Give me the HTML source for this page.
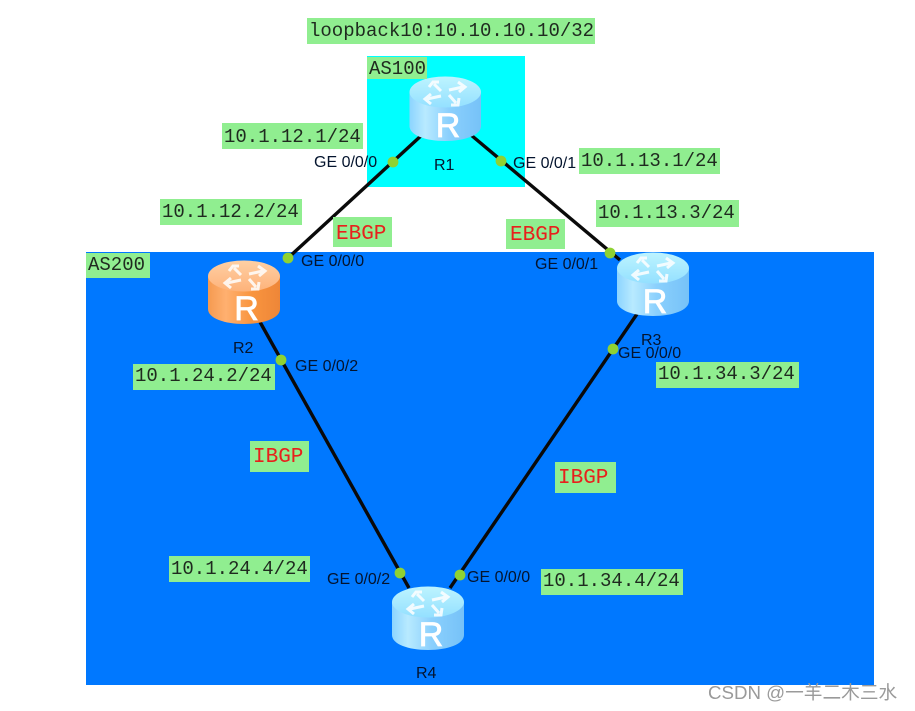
<!DOCTYPE html>
<html>
<head>
<meta charset="utf-8">
<style>
html,body{margin:0;padding:0;background:#fff;width:915px;height:711px;overflow:hidden}
svg{display:block;filter:blur(.35px)}
.m{font-family:"Liberation Mono",monospace;font-size:19px;fill:#1f2a1f}
.b{font-family:"Liberation Mono",monospace;font-size:21px;fill:#e8201c}
.s{font-family:"Liberation Sans",sans-serif;font-size:16px;fill:#04142e}
.rt{font-family:"Liberation Sans",sans-serif;font-size:34px;fill:#fff;stroke:#fff;stroke-width:.8;text-anchor:middle}
.g{fill:#90ee90}
.d{fill:#8fd232}
.l{stroke:#0a0a0a;stroke-width:3.4;fill:none}
</style>
</head>
<body>
<svg width="915" height="711" viewBox="0 0 915 711" xmlns="http://www.w3.org/2000/svg">
<defs>
<linearGradient id="bs" x1="0" x2="1" y1="0" y2="0">
<stop offset="0" stop-color="#8cd4ff"/><stop offset=".22" stop-color="#b8eaff"/><stop offset=".55" stop-color="#8bd0fd"/><stop offset="1" stop-color="#76c2f8"/>
</linearGradient>
<linearGradient id="bt" x1="0" x2="0" y1="0" y2="1">
<stop offset="0" stop-color="#bdf4ff"/><stop offset="1" stop-color="#94e0ff"/>
</linearGradient>
<linearGradient id="os" x1="0" x2="1" y1="0" y2="0">
<stop offset="0" stop-color="#f59a50"/><stop offset=".25" stop-color="#ffb070"/><stop offset=".6" stop-color="#f9953f"/><stop offset="1" stop-color="#ee8638"/>
</linearGradient>
<linearGradient id="ot" x1="0" x2="0" y1="0" y2="1">
<stop offset="0" stop-color="#ffd0a4"/><stop offset="1" stop-color="#fdb27a"/>
</linearGradient>
<g id="ar" fill="none" stroke="#fff" stroke-width="3" opacity=".85">
<path d="M-4 -2 L-11 -9 M-16 -6 L-12 -11 L-6 -11"/>
<path d="M4 -3 L18 -6 M13 -11 L20 -6 L14 -1"/>
<path d="M-4 3 L-18 6 M-14 1 L-20 6 L-14 11"/>
<path d="M4 2 L11 10 M14 5 L13 12 L6 12"/>
</g>
</defs>

<rect x="86" y="252" width="788" height="433" fill="#0078ff"/>
<rect x="367" y="56" width="158" height="131" fill="#00ffff"/>

<line class="l" x1="423" y1="134" x2="288" y2="258"/>
<line class="l" x1="471" y1="135" x2="620" y2="260"/>
<line class="l" x1="260" y1="322" x2="409" y2="588"/>
<line class="l" x1="637" y1="314" x2="450" y2="588"/>

<!-- R1 -->
<path d="M409.500 92V126C409.500 135 425 141 445 141S481 135 481 126V92Z" fill="url(#bs)"/>
<ellipse cx="445.250" cy="92" rx="35.750" ry="15.500" fill="url(#bt)"/>
<use href="#ar" x="445" y="93"/>
<text class="rt" x="448" y="137">R</text>
<!-- R2 -->
<path d="M208 276V309C208 318 224 324 244 324S280 318 280 309V276Z" fill="url(#os)"/>
<ellipse cx="244" cy="276" rx="36" ry="15.500" fill="url(#ot)"/>
<use href="#ar" x="245" y="277"/>
<text class="rt" x="246.500" y="320">R</text>
<!-- R3 -->
<path d="M617 268V301C617 310 633 316 653 316S689 310 689 301V268Z" fill="url(#bs)"/>
<ellipse cx="653" cy="268" rx="36" ry="15.500" fill="url(#bt)"/>
<use href="#ar" x="653" y="269"/>
<text class="rt" x="655" y="313">R</text>
<!-- R4 -->
<path d="M392 602V635C392 644 408 650 428 650S464 644 464 635V602Z" fill="url(#bs)"/>
<ellipse cx="428" cy="602" rx="36" ry="15.500" fill="url(#bt)"/>
<use href="#ar" x="428" y="603"/>
<text class="rt" x="431" y="646">R</text>

<circle class="d" cx="393" cy="162" r="5.400"/>
<circle class="d" cx="501" cy="161" r="5.400"/>
<circle class="d" cx="288" cy="258" r="5.400"/>
<circle class="d" cx="610" cy="253" r="5.400"/>
<circle class="d" cx="281" cy="360" r="5.400"/>
<circle class="d" cx="613" cy="349" r="5.400"/>
<circle class="d" cx="400" cy="573" r="5.400"/>
<circle class="d" cx="460" cy="575" r="5.400"/>

<rect class="g" x="307" y="18" width="288" height="26"/>
<text class="m" x="309" y="36">loopback10:10.10.10.10/32</text>
<rect class="g" x="367" y="57" width="60" height="22"/>
<text class="m" x="369" y="74">AS100</text>
<rect class="g" x="86" y="253" width="64" height="25"/>
<text class="m" x="88" y="270">AS200</text>

<rect class="g" x="222" y="123" width="141" height="26"/>
<text class="m" x="224" y="142">10.1.12.1/24</text>
<rect class="g" x="579" y="148" width="141" height="26"/>
<text class="m" x="581" y="166">10.1.13.1/24</text>
<rect class="g" x="160" y="199" width="142" height="26"/>
<text class="m" x="162" y="217">10.1.12.2/24</text>
<rect class="g" x="596" y="200" width="143" height="27"/>
<text class="m" x="598" y="218">10.1.13.3/24</text>
<rect class="g" x="133" y="364" width="142" height="26"/>
<text class="m" x="135" y="381">10.1.24.2/24</text>
<rect class="g" x="656" y="362" width="143" height="26"/>
<text class="m" x="658" y="379">10.1.34.3/24</text>
<rect class="g" x="169" y="556" width="141" height="26"/>
<text class="m" x="171" y="574">10.1.24.4/24</text>
<rect class="g" x="541" y="569" width="142" height="26"/>
<text class="m" x="543" y="586">10.1.34.4/24</text>

<rect class="g" x="333" y="217" width="59" height="30"/>
<text class="b" x="336" y="239">EBGP</text>
<rect class="g" x="506" y="219" width="59" height="30"/>
<text class="b" x="510" y="240">EBGP</text>
<rect class="g" x="250" y="441" width="59" height="31"/>
<text class="b" x="253" y="462">IBGP</text>
<rect class="g" x="555" y="462" width="61" height="31"/>
<text class="b" x="558" y="483">IBGP</text>

<text class="s" x="314" y="167">GE 0/0/0</text>
<text class="s" x="513" y="168">GE 0/0/1</text>
<text class="s" x="434" y="170">R1</text>
<text class="s" x="301" y="266">GE 0/0/0</text>
<text class="s" x="535" y="269">GE 0/0/1</text>
<text class="s" x="233" y="353">R2</text>
<text class="s" x="641" y="345">R3</text>
<text class="s" x="295" y="371">GE 0/0/2</text>
<text class="s" x="618" y="358">GE 0/0/0</text>
<text class="s" x="327" y="584">GE 0/0/2</text>
<text class="s" x="467" y="582">GE 0/0/0</text>
<text class="s" x="416" y="678">R4</text>

<text x="708" y="699" style="font-family:'Liberation Sans','Noto Sans CJK SC',sans-serif;font-size:18.700px;fill:#9a9a9a">CSDN @一羊二木三水</text>
</svg>
</body>
</html>
